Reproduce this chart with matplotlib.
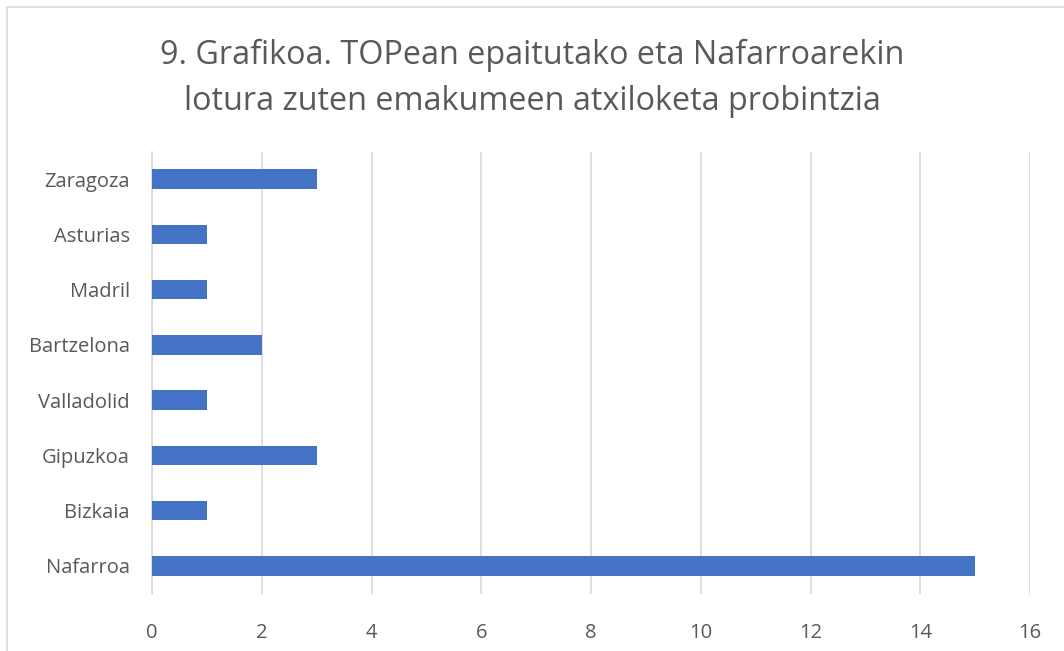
import matplotlib.pyplot as plt
import matplotlib as mpl
from matplotlib.patches import Rectangle
from matplotlib.ticker import MultipleLocator

mpl.rcParams['font.family'] = ['Open Sans', 'DejaVu Sans']

# data (bottom to top)
provinces = ['Nafarroa', 'Bizkaia', 'Gipuzkoa', 'Valladolid',
             'Bartzelona', 'Madril', 'Asturias', 'Zaragoza']
counts = [15, 1, 3, 1, 2, 1, 1, 3]

title = '9. Grafikoa. TOPean epaitutako eta Nafarroarekin\nlotura zuten emakumeen atxiloketa probintzia'

W, H = 1064, 651
fig = plt.figure(figsize=(W / 100, H / 100), dpi=100)
fig.patch.set_facecolor('white')

# chart area border (Excel style, cut off at right/bottom)
fig.patches.append(Rectangle((6.5 / W, -0.1), 1.2, 1 - 6.5 / H + 0.1,
                             transform=fig.transFigure, fill=False,
                             edgecolor='#d9d9d9', linewidth=1.2))

# axes placed in pixel coordinates
left, right, top, bottom = 152, 1030, 151.5, 593.5
ax = fig.add_axes([left / W, 1 - bottom / H, (right - left) / W, (bottom - top) / H])

ax.barh(range(len(provinces)), counts, height=0.355, color='#4472C4', zorder=3)

ax.set_xlim(0, 16)
ax.set_ylim(-0.5, len(provinces) - 0.5)
ax.xaxis.set_major_locator(MultipleLocator(2))
ax.set_yticks(range(len(provinces)))
ax.set_yticklabels(provinces)

ax.grid(axis='x', color='#d9d9d9', linewidth=1.2, zorder=0)
for s in ['top', 'right', 'bottom']:
    ax.spines[s].set_visible(False)
ax.spines['left'].set_color('#d9d9d9')
ax.spines['left'].set_linewidth(1.2)

ax.tick_params(axis='both', length=0, labelsize=14.5, labelcolor='#595959')
ax.tick_params(axis='x', pad=21)
ax.tick_params(axis='y', pad=16)

fig.text(0.5, 1 - 78.5 / H, title, ha='center', va='center', fontsize=23.3,
         color='#595959', linespacing=1.5)

fig.savefig('out.png', dpi=100, facecolor='white')
